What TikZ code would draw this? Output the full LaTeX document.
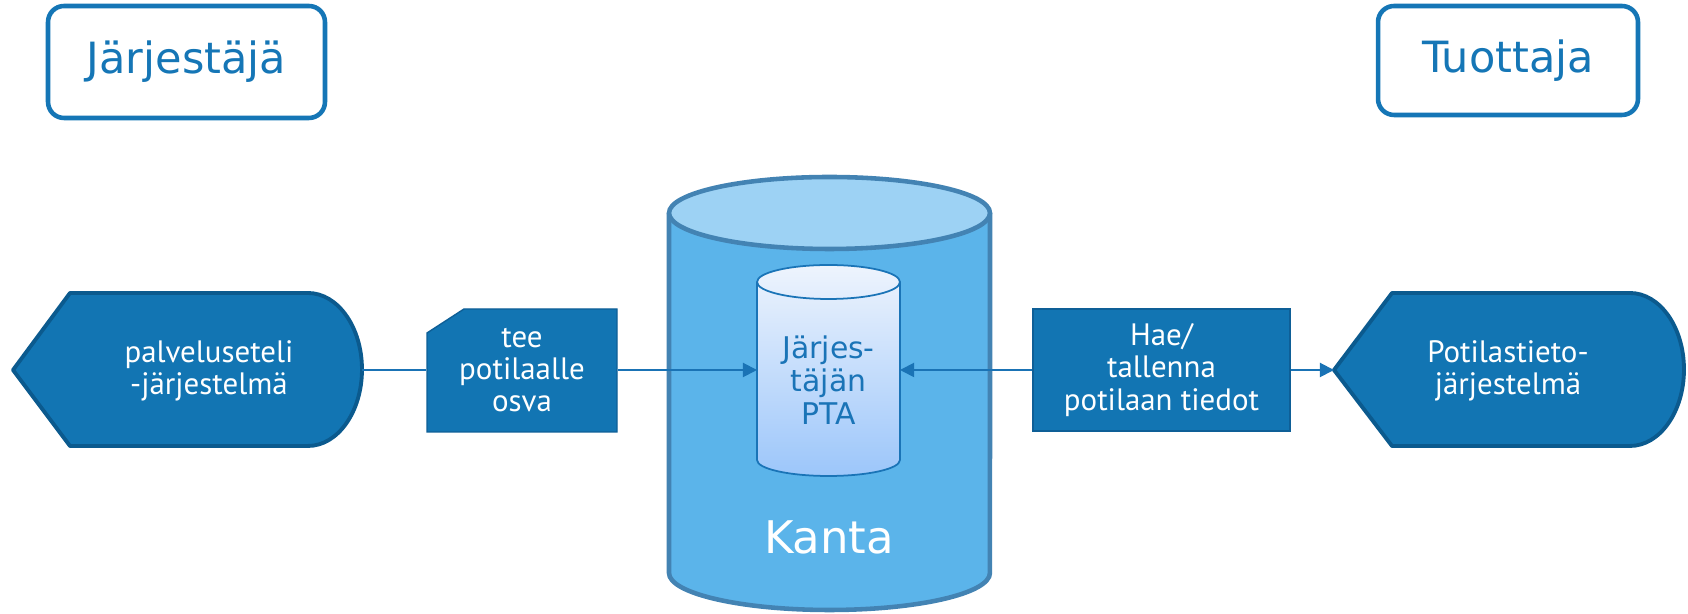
\documentclass[tikz,border=0pt]{standalone}
\usepackage{fontspec}
\setmainfont{DejaVu Sans}
\newfontfamily\labelfont{PT Sans}
\usetikzlibrary{arrows.meta}
\begin{document}
\begin{tikzpicture}[x=0.02cm,y=0.02cm,
  party/.style={draw=partyblue, line width=2.6pt, fill=white, rounded corners=0.32cm, text=partyblue, inner sep=0pt, font=\fontsize{24.5}{28}\selectfont},
  sysshape/.style={fill=sysblue, draw=sysedge, line width=2.2pt, line join=round},
  systext/.style={text=white, align=center, font=\labelfont\fontsize{17.6}{18.4}\selectfont},
  task/.style={fill=sysblue, draw=taskedge, line width=0.8pt, text=white, align=center, inner sep=0pt, font=\labelfont\fontsize{17.6}{18.4}\selectfont},
  link/.style={draw=linkblue, line width=1.1pt},
  tip/.style={-{Triangle[length=8pt,width=8pt]}}]
\definecolor{partyblue}{HTML}{1576B6}
\definecolor{sysblue}{HTML}{1275B3}
\definecolor{sysedge}{HTML}{0B5A8E}
\definecolor{taskedge}{HTML}{0E5F97}
\definecolor{kantabody}{HTML}{5BB4EA}
\definecolor{kantatop}{HTML}{9DD2F4}
\definecolor{kantaedge}{HTML}{4383B3}
\definecolor{ptatop}{HTML}{EEF4FD}
\definecolor{ptabottom}{HTML}{9CC6FA}
\definecolor{ptaedge}{HTML}{1A74B7}
\definecolor{linkblue}{HTML}{1A73B5}
\useasboundingbox (0,0) rectangle (1688,614);
% roles
\node[party, minimum width=5.54cm, minimum height=2.24cm] (jarj) at (186.5,552) {Järjestäjä};
\node[party, minimum width=5.2cm, minimum height=2.18cm] (tuot) at (1508,553.5) {Tuottaja};
% Kanta
\draw[fill=kantabody, draw=kantaedge, line width=2.6pt] (669,401) -- (669,41) arc (180:360:3.21cm and 0.74cm) -- (990,401);
\draw[fill=kantatop, draw=kantaedge, line width=2.6pt] (829.5,401) ellipse (3.21cm and 0.72cm);
\node[text=white, font=\fontsize{25.6}{30}\selectfont] (kanta) at (829,77) {Kanta};
% PTA
\shade[top color=ptatop, bottom color=ptabottom] (757,332) -- (757,154) arc (180:360:1.43cm and 0.32cm) -- (900,332) arc (0:180:1.43cm and 0.34cm) -- cycle;
\draw[ptaedge, line width=1pt] (757,332) -- (757,154) arc (180:360:1.43cm and 0.32cm) -- (900,332) arc (0:360:1.43cm and 0.34cm);
\node[text=ptaedge, align=center, font=\fontsize{17}{18.8}\selectfont] (pta) at (828.5,234) {Järjes-\\täjän\\PTA};
\coordinate (pta-w) at (757,244);
\coordinate (pta-e) at (900,244);
% systems
\draw[sysshape] (13,244) -- (70,321) -- (308,321) arc (90:-90:1.08cm and 1.53cm) -- (70,168) -- cycle;
\node[systext] (pse) at (209,243) {palveluseteli\\-järjestelmä};
\coordinate (pse-e) at (362,244);
\draw[sysshape] (1334,244) -- (1392,321) -- (1630,321) arc (90:-90:1.08cm and 1.53cm) -- (1392,168) -- cycle;
\node[systext] (pts) at (1508,243) {Potilastieto-\\järjestelmä};
\coordinate (pts-w) at (1334,244);
% tasks
\draw[fill=sysblue, draw=taskedge, line width=0.8pt] (427,182) -- (427,281) -- (464,305) -- (617,305) -- (617,182) -- cycle;
\node[task, fill=none, draw=none, minimum width=3.8cm, minimum height=2.46cm] (osva) at (522,244) {tee\\potilaalle\\osva};
\node[task, minimum width=5.14cm, minimum height=2.44cm] (tiedot) at (1161.5,244) {Hae/\\tallenna\\potilaan tiedot};
% links
\draw[link] (pse-e) -- (osva.west);
\draw[link, tip] (osva.east) -- (pta-w);
\draw[link, tip] (tiedot.west) -- (pta-e);
\draw[link, tip] (tiedot.east) -- (pts-w);
\end{tikzpicture}
\end{document}
